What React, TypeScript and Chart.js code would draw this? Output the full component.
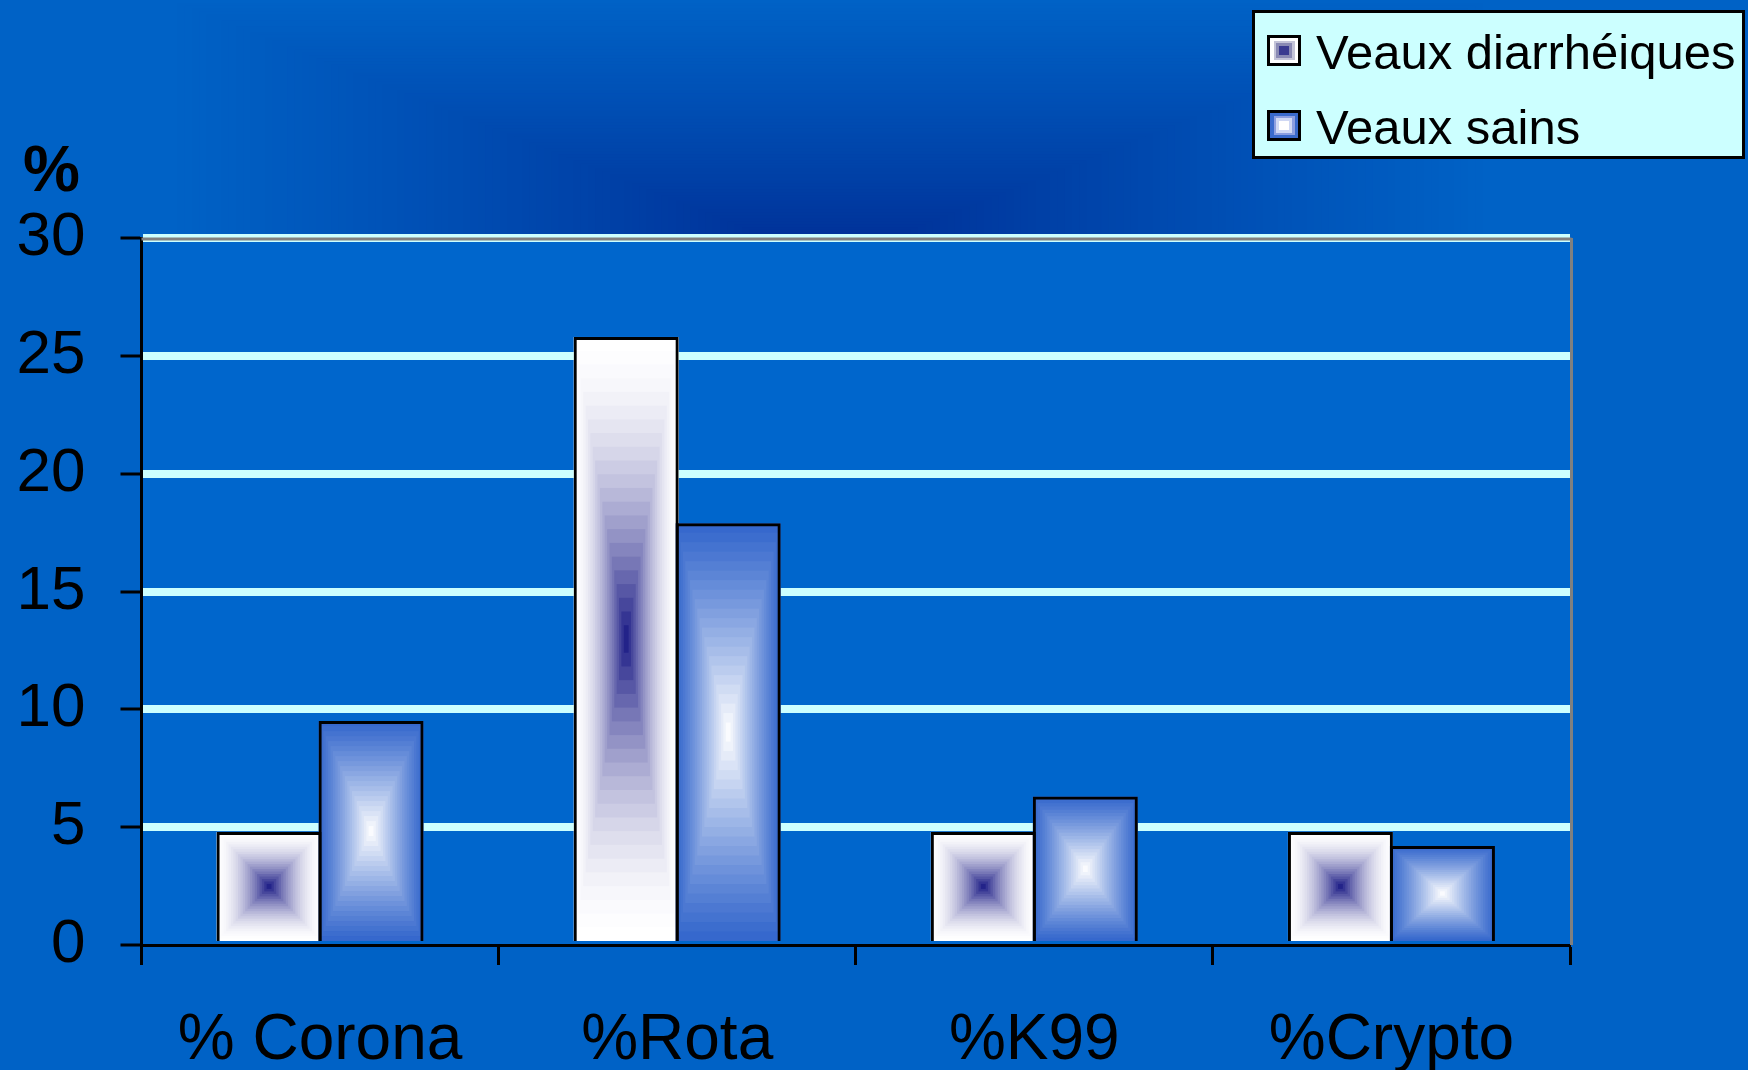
import React, { useEffect, useRef } from "react";
import { Chart, registerables } from "chart.js";

Chart.register(...registerables);

// ---------- data ----------
const categories = ["% Corona", "%Rota", "%K99", "%Crypto"];
const seriesNames = ["Veaux diarrhéiques", "Veaux sains"];
const diarrheiques = [4.8, 25.8, 4.8, 4.8];
const sains = [9.5, 17.9, 6.3, 4.2];
const yTicks = [0, 5, 10, 15, 20, 25, 30];
const yTitle = "%";

// ---------- styles ----------
const W = 1748;
const H = 1070;
const FONT = "'Liberation Sans', Arial, Helvetica, sans-serif";

type RGB = [number, number, number];
const hexToRgb = (h: string): RGB => [
  parseInt(h.slice(1, 3), 16),
  parseInt(h.slice(3, 5), 16),
  parseInt(h.slice(5, 7), 16),
];
const mix = (a: string, b: string, f: number) => {
  const A = hexToRgb(a);
  const B = hexToRgb(b);
  const c = A.map((v, i) => Math.round(v + (B[i] - v) * f));
  return `rgb(${c[0]},${c[1]},${c[2]})`;
};

const barFills = [
  { edge: "#ffffff", center: "#1a1a84", gamma: 1.8 },
  { edge: "#3366cc", center: "#ffffff", gamma: 1.15 },
];

function rectGradient(
  ctx: CanvasRenderingContext2D,
  left: number,
  top: number,
  w: number,
  h: number,
  edge: string,
  center: string,
  gamma: number,
  steps = 22
) {
  for (let i = 0; i < steps; i++) {
    const t = i / steps;
    const f = Math.pow((i + 0.5) / steps, gamma);
    const dx = (w / 2) * t;
    const dy = (h / 2) * t;
    ctx.fillStyle = mix(edge, center, Math.min(1, f));
    ctx.fillRect(left + dx, top + dy, w - 2 * dx, h - 2 * dy);
  }
}

const decorPlugin = {
  id: "decor",
  beforeDraw(chart: any) {
    const { ctx, chartArea: ca } = chart;
    ctx.save();
    // slide background: light blue with a darker rectangular glow behind the plot top
    ctx.fillStyle = "#0062c6";
    ctx.fillRect(0, 0, W, H);
    const cx = 830;
    const cy = 262;
    const A = 660;
    const B = 262;
    const N = 90;
    for (let i = N; i >= 1; i--) {
      const t = i / N;
      const f = Math.min(1, Math.max(0, (t - 0.12) / 0.88));
      ctx.fillStyle = mix("#00339a", "#0062c6", Math.pow(f, 0.9));
      ctx.fillRect(cx - A * t, cy - B * t, 2 * A * t, 2 * B * t);
    }
    ctx.restore();
    ctx.save();
    ctx.fillStyle = "#0066cc";
    ctx.fillRect(ca.left, ca.top, ca.right - ca.left, ca.bottom - ca.top);
    ctx.restore();
  },
  beforeDatasetsDraw(chart: any) {
    const { ctx, chartArea: ca } = chart;
    ctx.save();
    // plot frame (grey) on top and right
    ctx.strokeStyle = "#808080";
    ctx.lineWidth = 3;
    ctx.beginPath();
    ctx.moveTo(ca.left, ca.top + 1);
    ctx.lineTo(ca.right + 1.5, ca.top + 1);
    ctx.moveTo(ca.right + 1.5, ca.top);
    ctx.lineTo(ca.right + 1.5, ca.bottom);
    ctx.stroke();
    // gradient fills of bars
    chart.data.datasets.forEach((_: any, di: number) => {
      const meta = chart.getDatasetMeta(di);
      const fill = barFills[di];
      meta.data.forEach((bar: any) => {
        const p = bar.getProps(["x", "y", "base", "width"], true);
        const left = p.x - p.width / 2;
        const top = Math.min(p.y, p.base);
        const h = Math.abs(p.base - p.y);
        rectGradient(ctx, left, top, p.width, h, fill.edge, fill.center, fill.gamma);
      });
    });
    ctx.restore();
  },
};

function Marker({ top, layers }: { top: number; layers: string[] }) {
  const insets = [0, 3.5, 6, 9];
  return (
    <div
      style={{
        position: "absolute",
        left: 1267,
        top,
        width: 34,
        height: 31,
        border: "3px solid #000",
        boxSizing: "border-box",
        overflow: "hidden",
      }}
    >
      {layers.map((c, i) => (
        <div
          key={i}
          style={{
            position: "absolute",
            left: insets[i],
            right: insets[i],
            top: insets[i] * 0.85,
            bottom: insets[i] * 0.85,
            background: c,
          }}
        />
      ))}
    </div>
  );
}

export default function App() {
  const ref = useRef<HTMLCanvasElement>(null);

  useEffect(() => {
    const canvas = ref.current!;
    const chart = new Chart(canvas, {
      type: "bar",
      data: {
        labels: categories,
        datasets: [
          {
            label: seriesNames[0],
            data: diarrheiques,
            backgroundColor: "rgba(0,0,0,0)",
            borderColor: "#000",
            borderWidth: 3,
            categoryPercentage: 0.5713,
            barPercentage: 1.0294,
          },
          {
            label: seriesNames[1],
            data: sains,
            backgroundColor: "rgba(0,0,0,0)",
            borderColor: "#000",
            borderWidth: 3,
            categoryPercentage: 0.5713,
            barPercentage: 1.0294,
          },
        ],
      },
      options: {
        responsive: false,
        animation: false,
        devicePixelRatio: 1,
        layout: { padding: { top: 238, right: 178, left: 0, bottom: 0 } },
        plugins: {
          legend: { display: false },
          tooltip: { enabled: false },
          title: { display: false },
        },
        scales: {
          x: {
            z: 1,
            offset: true,
            grid: {
              offset: true,
              drawOnChartArea: false,
              drawTicks: true,
              tickLength: 20,
              tickWidth: 3,
              tickColor: "#000",
              color: "#000",
            },
            border: { display: true, color: "#000", width: 3 },
            ticks: {
              color: "#000",
              font: { size: 64, family: FONT },
              padding: 38,
              maxRotation: 0,
              autoSkip: false,
            },
            afterFit: (s: any) => {
              s.height = 125;
            },
          },
          y: {
            min: yTicks[0],
            max: yTicks[yTicks.length - 1],
            grid: {
              color: (c: any) =>
                c.tick && c.tick.value === 0 ? "rgba(0,0,0,0)" : "#ccffff",
              lineWidth: 8,
              tickLength: 21,
              tickWidth: 3,
              tickColor: "#000",
            },
            border: { display: true, color: "#000", width: 3 },
            ticks: {
              stepSize: yTicks[1] - yTicks[0],
              color: "#000",
              font: { size: 62, family: FONT },
              padding: 35,
            },
            afterFit: (s: any) => {
              s.width = 141.5;
            },
          },
        },
      },
      plugins: [decorPlugin],
    });
    return () => chart.destroy();
  }, []);

  return (
    <div
      style={{
        position: "fixed",
        left: 0,
        top: 0,
        width: W,
        height: H,
        overflow: "hidden",
        fontFamily: FONT,
      }}
    >
      <canvas ref={ref} width={W} height={H} style={{ display: "block", width: W, height: H }} />
      <div
        style={{
          position: "absolute",
          left: 23,
          top: 137,
          fontSize: 64,
          lineHeight: "64px",
          fontWeight: "bold",
          color: "#000",
          whiteSpace: "nowrap",
        }}
      >
        {yTitle}
      </div>
      <div
        style={{
          position: "absolute",
          left: 1252,
          top: 10,
          width: 493,
          height: 149,
          border: "3px solid #000",
          boxSizing: "border-box",
          background: "#ccffff",
        }}
      />
      <Marker top={35} layers={["#ffffff", "#c4c4d8", "#8a8ab4", "#3a3a90"]} />
      <Marker top={110} layers={["#3a6acc", "#8c9ee0", "#d0d8f4", "#ffffff"]} />
      {seriesNames.map((n, i) => (
        <div
          key={n}
          style={{
            position: "absolute",
            left: 1316,
            top: i === 0 ? 27.5 : 102.5,
            fontSize: 49,
            lineHeight: "49px",
            color: "#000",
            whiteSpace: "nowrap",
          }}
        >
          {n}
        </div>
      ))}
    </div>
  );
}
